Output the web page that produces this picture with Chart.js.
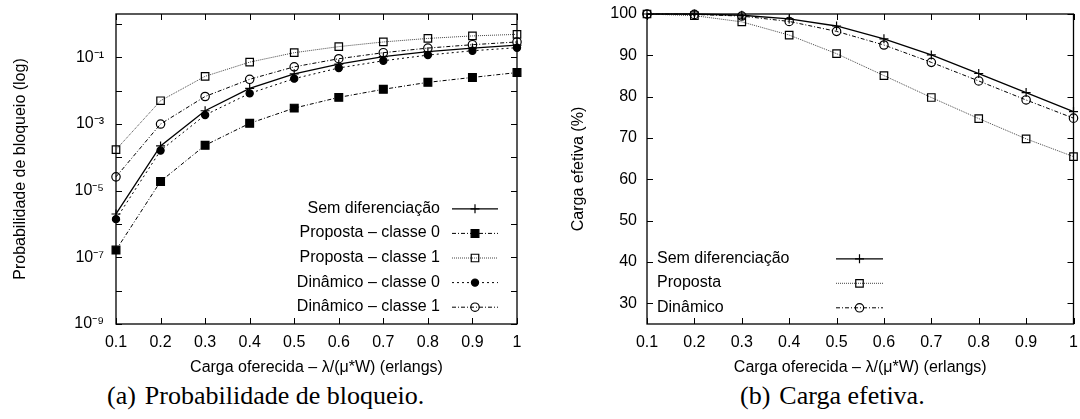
<!DOCTYPE html>
<html><head><meta charset="utf-8">
<script src="https://cdn.jsdelivr.net/npm/chart.js@4/dist/chart.umd.min.js"></script>
<style>
html,body{margin:0;padding:0;background:#fff;width:1080px;height:419px;overflow:hidden;}
canvas{position:absolute;top:0;}
#ca{left:0;}
#cb{left:560px;}
.cap{position:absolute;top:381px;font-family:'Liberation Serif','Times New Roman',serif;font-size:26px;color:#000;white-space:pre;line-height:30px;}
.cap span+span{margin-left:9px;}
</style></head><body>
<canvas id="ca" width="540" height="380"></canvas>
<canvas id="cb" width="520" height="380"></canvas>
<div class="cap" style="left:107px"><span>(a)</span><span>Probabilidade de bloqueio.</span></div>
<div class="cap" style="left:740px"><span>(b)</span><span>Carga efetiva.</span></div>
<script>
// ---- data ----
const loadX = [0.1, 0.2, 0.3, 0.4, 0.5, 0.6, 0.7, 0.8, 0.9, 1.0];
const xTickLabels = ['0.1','0.2','0.3','0.4','0.5','0.6','0.7','0.8','0.9','1'];

const blockSemDif = [2.0e-6, 2.2e-4, 2.5e-3, 0.0117, 0.032, 0.063, 0.105, 0.148, 0.19, 0.234];
const blockPropC0 = [1.65e-7, 1.9e-5, 2.3e-4, 1.05e-3, 3.0e-3, 6.3e-3, 0.011, 0.0178, 0.025, 0.035];
const blockPropC1 = [1.7e-4, 5.0e-3, 0.027, 0.072, 0.138, 0.21, 0.29, 0.37, 0.44, 0.49];
const blockDinC0 = [1.4e-6, 1.6e-4, 1.86e-3, 8.3e-3, 0.023, 0.048, 0.079, 0.117, 0.158, 0.195];
const blockDinC1 = [2.6e-5, 1.0e-3, 6.7e-3, 0.022, 0.052, 0.091, 0.138, 0.19, 0.24, 0.29];

const logTickValues = [1e-9, 1e-8, 1e-7, 1e-6, 1e-5, 1e-4, 1e-3, 1e-2, 1e-1, 1];
const logTickLabels = ['10⁻⁹', '', '10⁻⁷', '', '10⁻⁵', '', '10⁻³', '', '10⁻¹', ''];

const effSemDif = [100, 100, 99.7, 98.8, 97.1, 94.0, 90.1, 85.6, 81.0, 76.4];
const effProposta = [100, 99.6, 98.1, 94.9, 90.4, 85.1, 79.8, 74.7, 69.8, 65.5];
const effDinamico = [100, 99.9, 99.5, 98.2, 95.8, 92.5, 88.3, 83.8, 79.2, 74.8];
const effTickValues = [30, 40, 50, 60, 70, 80, 90, 100];

const labelsA = ['Sem diferenciação', 'Proposta – classe 0', 'Proposta – classe 1', 'Dinâmico – classe 0', 'Dinâmico – classe 1'];
const labelsB = ['Sem diferenciação', 'Proposta', 'Dinâmico'];
const xTitle = 'Carga oferecida – λ/(μ*W) (erlangs)';

// ---- styles ----
Chart.defaults.font.family = "'Liberation Sans', Arial, Helvetica, sans-serif";
Chart.defaults.font.size = 16;
Chart.defaults.color = '#000';

const pts = arr => loadX.map((x, i) => ({x: x, y: arr[i]}));
const NONE = 'rgba(0,0,0,0)';
const sty = {
  sem:  {borderColor:'#000', borderWidth:1.3, borderDash:[], pointStyle:'cross', pointRadius:4.5, pointBackgroundColor:NONE, pointBorderColor:'#000'},
  pc0:  {borderColor:'#000', borderWidth:1, borderDash:[4,2,1,2], pointStyle:'rect', pointRadius:5.5, pointBackgroundColor:'#000', pointBorderColor:'#000'},
  pc1:  {borderColor:'#444', borderWidth:1, borderDash:[1,1], pointStyle:'rect', pointRadius:5.3, pointBackgroundColor:NONE, pointBorderColor:'#000'},
  dc0:  {borderColor:'#000', borderWidth:1, borderDash:[2,3], pointStyle:'circle', pointRadius:3.6, pointBackgroundColor:'#000', pointBorderColor:'#000'},
  dc1:  {borderColor:'#000', borderWidth:1, borderDash:[4,2,1,2], pointStyle:'circle', pointRadius:4.2, pointBackgroundColor:NONE, pointBorderColor:'#000'}
};
function ds(label, arr, s) {
  return Object.assign({label: label, data: pts(arr), fill:false, tension:0, pointBorderWidth:1.2, clip:false}, s);
}

function drawMarker(ctx, d, x, y) {
  const r = d.pointRadius;
  ctx.save();
  ctx.setLineDash([]);
  ctx.lineWidth = d.pointBorderWidth || 1.2;
  ctx.strokeStyle = d.pointBorderColor;
  ctx.fillStyle = d.pointBackgroundColor;
  ctx.beginPath();
  if (d.pointStyle === 'cross') {
    ctx.moveTo(x, y - r); ctx.lineTo(x, y + r); ctx.moveTo(x - r, y); ctx.lineTo(x + r, y);
    ctx.stroke();
  } else if (d.pointStyle === 'rect') {
    const s = r * Math.SQRT1_2;
    ctx.rect(x - s, y - s, 2 * s, 2 * s); ctx.fill(); ctx.stroke();
  } else {
    ctx.arc(x, y, r, 0, Math.PI * 2); ctx.fill(); ctx.stroke();
  }
  ctx.restore();
}

const framePlugin = {
  id: 'frame',
  beforeDatasetsDraw(chart) {
    const {ctx, chartArea: a, scales: {x, y}} = chart;
    ctx.save();
    ctx.strokeStyle = '#000';
    ctx.lineWidth = 1.3;
    ctx.strokeRect(a.left, a.top, a.right - a.left, a.bottom - a.top);
    const L = 6;
    ctx.lineWidth = 1;
    ctx.beginPath();
    x.ticks.forEach(t => {
      const p = Math.round(x.getPixelForValue(t.value)) + 0.5;
      ctx.moveTo(p, a.bottom); ctx.lineTo(p, a.bottom - L);
      ctx.moveTo(p, a.top); ctx.lineTo(p, a.top + L);
    });
    y.ticks.forEach(t => {
      const p = Math.round(y.getPixelForValue(t.value)) + 0.5;
      ctx.moveTo(a.left, p); ctx.lineTo(a.left + L, p);
      ctx.moveTo(a.right, p); ctx.lineTo(a.right - L, p);
    });
    ctx.stroke();
    ctx.restore();
  }
};

const keyPlugin = {
  id: 'key',
  afterDraw(chart, args, opts) {
    const {ctx, chartArea: a} = chart;
    ctx.save();
    ctx.font = "16px 'Liberation Sans', Arial, sans-serif";
    ctx.fillStyle = '#000';
    ctx.textBaseline = 'middle';
    chart.data.datasets.forEach((d, i) => {
      const y = a.top + opts.y0 + i * opts.step;
      const ref = opts.anchor === 'right' ? a.right : a.left;
      ctx.textAlign = opts.anchor === 'right' ? 'right' : 'left';
      ctx.fillText(d.label, ref + opts.textX, y);
      const x1 = ref + opts.lineX1, x2 = ref + opts.lineX2;
      ctx.save();
      ctx.strokeStyle = d.borderColor; ctx.lineWidth = d.borderWidth;
      ctx.setLineDash(d.borderDash);
      ctx.beginPath(); ctx.moveTo(x1, y + 0.5); ctx.lineTo(x2, y + 0.5); ctx.stroke();
      ctx.restore();
      drawMarker(ctx, d, (x1 + x2) / 2, y + 0.5);
    });
    ctx.restore();
  }
};

function xScale() {
  return {
    type: 'linear', min: 0.1, max: 1,
    afterBuildTicks: s => { s.ticks = loadX.map(v => ({value: v})); },
    ticks: {callback: (v, i) => xTickLabels[i], autoSkip: false, maxRotation: 0, padding: 9, color: '#000'},
    grid: {display: false, drawTicks: false},
    border: {display: false},
    title: {display: true, text: xTitle, color: '#000', font: {size: 16}, padding: {top: 0, bottom: 3}},
    afterFit: s => { s.height = 56; s.paddingLeft = 0; s.paddingRight = 0; }
  };
}

new Chart(document.getElementById('ca'), {
  type: 'line',
  data: {datasets: [
    ds(labelsA[0], blockSemDif, sty.sem),
    ds(labelsA[1], blockPropC0, sty.pc0),
    ds(labelsA[2], blockPropC1, sty.pc1),
    ds(labelsA[3], blockDinC0, sty.dc0),
    ds(labelsA[4], blockDinC1, sty.dc1)
  ]},
  options: {
    responsive: false, animation: false, devicePixelRatio: 1,
    layout: {padding: {left: 0, top: 14, right: 23, bottom: 0}},
    plugins: {legend: {display: false}, tooltip: {enabled: false},
      key: {anchor: 'right', textX: -77, lineX1: -65, lineX2: -19, y0: 194.3, step: 24.6}},
    scales: {
      x: xScale(),
      y: {
        type: 'logarithmic', min: 1e-9, max: 2,
        afterBuildTicks: s => { s.ticks = logTickValues.map(v => ({value: v})); },
        ticks: {callback: (v, i) => logTickLabels[i], autoSkip: false, padding: 12, color: '#000'},
        grid: {display: false, drawTicks: false},
        border: {display: false},
        title: {display: true, text: 'Probabilidade de bloqueio (log)', color: '#000', font: {size: 16}, padding: {top: 11, bottom: 0}},
        afterFit: s => { s.width = 116; s.paddingTop = 0; s.paddingBottom = 0; }
      }
    }
  },
  plugins: [framePlugin, keyPlugin]
});

new Chart(document.getElementById('cb'), {
  type: 'line',
  data: {datasets: [
    ds(labelsB[0], effSemDif, sty.sem),
    ds(labelsB[1], effProposta, sty.pc1),
    ds(labelsB[2], effDinamico, sty.dc1)
  ]},
  options: {
    responsive: false, animation: false, devicePixelRatio: 1,
    layout: {padding: {left: 0, top: 14, right: 2, bottom: 0}},
    plugins: {legend: {display: false}, tooltip: {enabled: false},
      key: {anchor: 'left', textX: 10, lineX1: 189, lineX2: 236, y0: 244.3, step: 24.5}},
    scales: {
      x: xScale(),
      y: {
        type: 'linear', min: 25, max: 100,
        afterBuildTicks: s => { s.ticks = effTickValues.map(v => ({value: v})); },
        ticks: {callback: v => String(v), autoSkip: false, padding: 10, color: '#000'},
        grid: {display: false, drawTicks: false},
        border: {display: false},
        title: {display: true, text: 'Carga efetiva (%)', color: '#000', font: {size: 16}, padding: {top: 9, bottom: 0}},
        afterFit: s => { s.width = 87; s.paddingTop = 0; s.paddingBottom = 0; }
      }
    }
  },
  plugins: [framePlugin, keyPlugin]
});
</script>
</body></html>
